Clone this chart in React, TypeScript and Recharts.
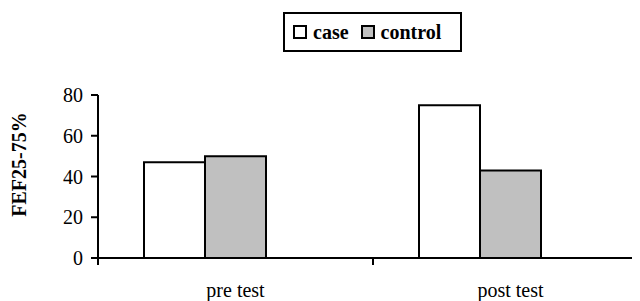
import { BarChart, Bar, XAxis, YAxis, Legend } from 'recharts';

/* FEF25-75% pre/post test, case vs control */

const categories = ['pre test', 'post test'];
const caseValues = [47, 75];
const controlValues = [50, 43];
// third, empty series (keeps the original chart's bar offset)
const blankValues: (number | null)[] = [null, null];
const yTicks = [0, 20, 40, 60, 80];

const data = categories.map((name, i) => ({
  name,
  case: caseValues[i],
  control: controlValues[i],
  blank: blankValues[i],
}));

const FONT = "'Times New Roman', Tinos, 'Liberation Serif', 'DejaVu Serif', serif";
const CHART_W = 660;
const CHART_H = 293;
const MARGIN = { top: 87, right: 20, bottom: 0, left: 0 };
const Y_AXIS_W = 90;
const PLOT_W = CHART_W - MARGIN.left - MARGIN.right - Y_AXIS_W;
const HALF_BAND = PLOT_W / categories.length / 2;

const XTick = (props: any) => {
  const { x, y, payload } = props;
  return (
    <g>
      <line x1={x - HALF_BAND} x2={x - HALF_BAND} y1={y} y2={y + 7} stroke="#000" strokeWidth={2} />
      <line x1={x + HALF_BAND} x2={x + HALF_BAND} y1={y} y2={y + 7} stroke="#000" strokeWidth={2} />
      <text x={x} y={y + 39} textAnchor="middle" style={{ fontFamily: FONT }} fontSize={20} fill="#000">
        {payload.value}
      </text>
    </g>
  );
};

const YTick = (props: any) => {
  const { x, y, payload } = props;
  return (
    <text x={x} y={y} dy={7} textAnchor="end" style={{ fontFamily: FONT }} fontSize={20} fill="#000">
      {payload.value}
    </text>
  );
};

const YLabel = (props: any) => {
  const { viewBox } = props;
  const cx = 11;
  const cy = viewBox.y + viewBox.height / 2 - 12;
  return (
    <text
      x={cx}
      y={cy}
      transform={`rotate(-90 ${cx} ${cy})`}
      textAnchor="middle"
      dominantBaseline="central"
      style={{ fontFamily: FONT }}
      fontWeight="bold"
      fontSize={20}
      fill="#000"
    >
      FEF25-75%
    </text>
  );
};

const LegendBox = ({ payload }: any) => {
  if (!payload) return null;
  const items = payload.filter((entry: any) => entry.dataKey !== 'blank');
  return (
    <div
      style={{
        boxSizing: 'border-box',
        width: 179,
        height: 40,
        border: '2px solid #000',
        background: '#fff',
        display: 'flex',
        alignItems: 'center',
        padding: '0 8px',
        fontFamily: FONT,
        fontWeight: 'bold',
        fontSize: 20,
        color: '#000',
        whiteSpace: 'nowrap',
      }}
    >
      {items.map((entry: any, i: number) => (
        <div key={i} style={{ display: 'flex', alignItems: 'center', marginRight: i === 0 ? 12 : 0 }}>
          <span
            style={{
              boxSizing: 'border-box',
              width: 14,
              height: 14,
              border: '2px solid #000',
              background: entry.payload?.fill ?? entry.color,
              marginRight: 6,
            }}
          />
          {entry.value}
        </div>
      ))}
    </div>
  );
};

export default function App() {
  return (
    <div style={{ width: 632, height: CHART_H, overflow: 'hidden', background: '#fff', fontFamily: FONT }}>
      <BarChart
        width={CHART_W}
        height={CHART_H}
        data={data}
        margin={MARGIN}
        barCategoryGap={46}
        barGap={0}
      >
        <XAxis
          dataKey="name"
          interval={0}
          height={43}
          tickLine={false}
          tickSize={0}
          tickMargin={0}
          axisLine={{ stroke: '#000', strokeWidth: 2 }}
          tick={<XTick />}
        />
        <YAxis
          width={Y_AXIS_W}
          domain={[0, 80]}
          ticks={yTicks}
          interval={0}
          tickSize={7}
          tickMargin={8}
          axisLine={{ stroke: '#000', strokeWidth: 2 }}
          tickLine={{ stroke: '#000', strokeWidth: 2 }}
          tick={<YTick />}
          label={<YLabel />}
        />
        <Legend
          layout="horizontal"
          verticalAlign="middle"
          align="center"
          wrapperStyle={{ top: 4, left: 275, width: 179 }}
          content={<LegendBox />}
        />
        <Bar dataKey="case" name="case" fill="#ffffff" stroke="#000" strokeWidth={2} isAnimationActive={false} />
        <Bar dataKey="control" name="control" fill="#c0c0c0" stroke="#000" strokeWidth={2} isAnimationActive={false} />
        <Bar dataKey="blank" legendType="none" fill="#ffffff" stroke="#000" strokeWidth={2} isAnimationActive={false} />
      </BarChart>
    </div>
  );
}
